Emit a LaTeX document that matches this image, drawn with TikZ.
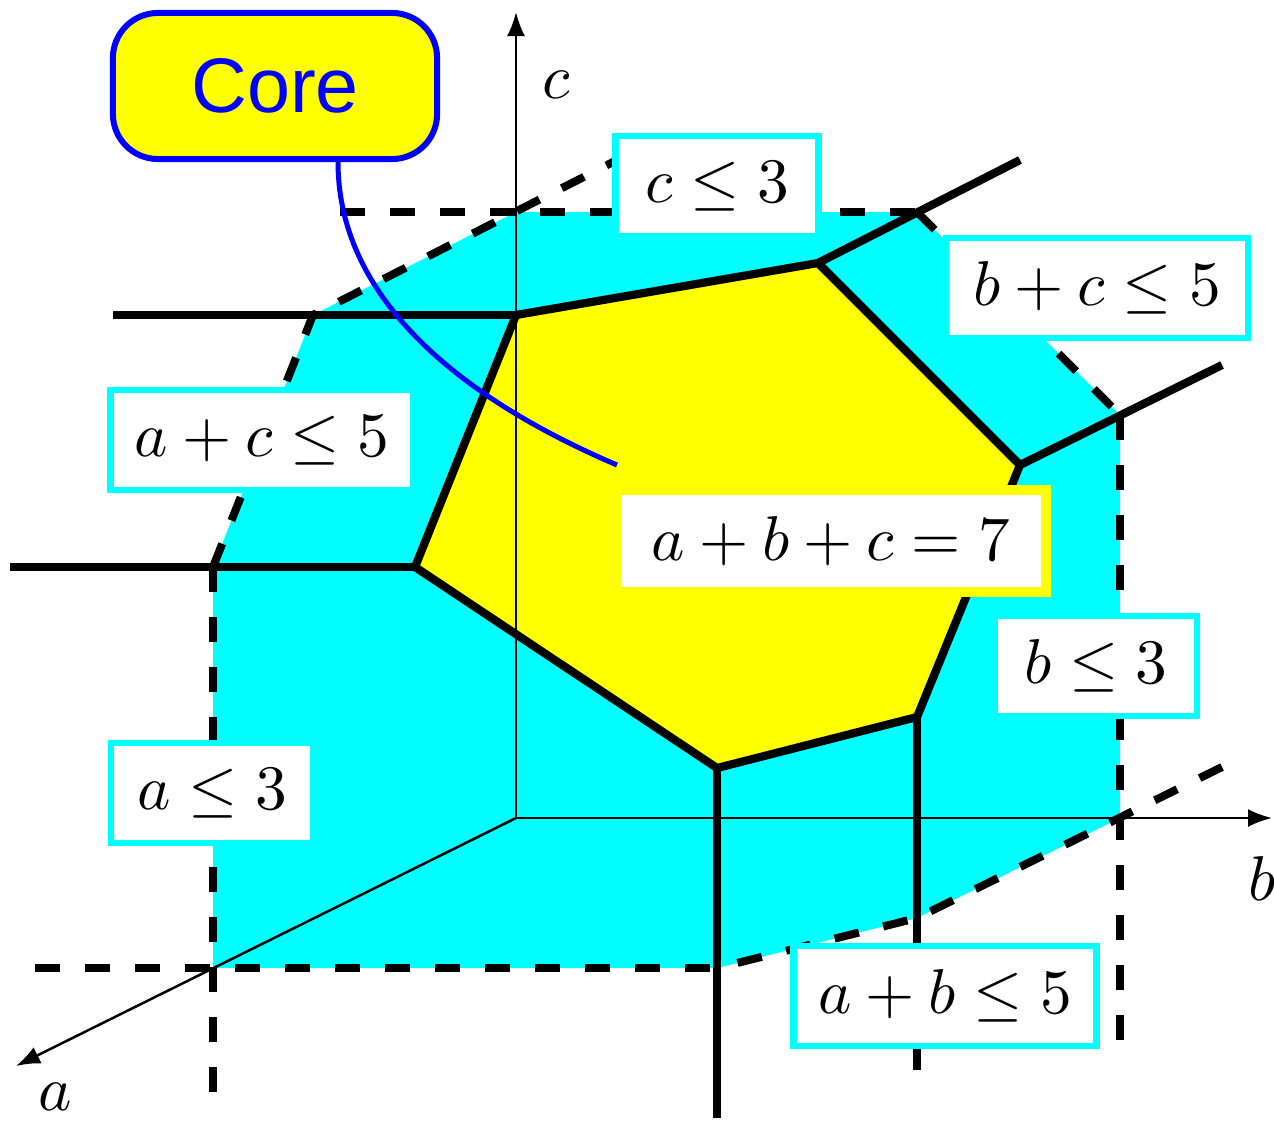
\documentclass[tikz,border=0pt]{standalone}
\usepackage{fontspec}
\newfontfamily\corefont{Liberation Sans}
\usetikzlibrary{arrows.meta}
\definecolor{cy}{RGB}{0,255,255}
\definecolor{ye}{RGB}{255,255,0}
\definecolor{bl}{RGB}{0,0,255}
\newcommand{\lblmath}[1]{\scalebox{1.8}{$#1$}}
\begin{document}
\begin{tikzpicture}[x=0.01cm,y=-0.01cm,
  thickline/.style={line width=0.082cm},
  dashline/.style={line width=0.08cm, dash pattern=on 0.25cm off 0.25cm},
  axisline/.style={line width=0.025cm, -{Latex[length=0.24cm,width=0.18cm]}},
  lbl/.style={draw=cy, line width=0.065cm, fill=white, inner sep=0pt, minimum height=1.0cm},
  axlbl/.style={inner sep=0pt}]
\useasboundingbox (0,0) rectangle (1274,1121);
% axes origin and tips
\coordinate (O) at (516,818);
\coordinate (Ctip) at (516,12);
\coordinate (Btip) at (1272,818);
\coordinate (Atip) at (16,1066);
% core hexagon
\coordinate (Y1) at (516,315);
\coordinate (Y2) at (818,263);
\coordinate (Y3) at (1020,465);
\coordinate (Y4) at (917,717);
\coordinate (Y5) at (717,768);
\coordinate (Y6) at (415,567);
% ray ends
\coordinate (R1) at (113,315);
\coordinate (R2) at (1020,160);
\coordinate (R3) at (1222,365);
\coordinate (R4) at (917,1070);
\coordinate (R5) at (717,1118);
\coordinate (R6) at (10,567);
% cyan region
\coordinate (C1) at (213,567);
\coordinate (C2) at (313,315);
\coordinate (C3) at (516,212);
\coordinate (C4) at (917,212);
\coordinate (C5) at (1120,415);
\coordinate (C6) at (1120,818);
\coordinate (C7) at (917,918);
\coordinate (C8) at (717,968);
\coordinate (C9) at (213,968);
% dashed extents
\coordinate (D1) at (340,212);
\coordinate (D2) at (617,160);
\coordinate (D3) at (1120,1045);
\coordinate (D4) at (1222,767);
\coordinate (D5) at (35,968);
\coordinate (D6) at (213,1095);

\fill[cy] (C1)--(C2)--(C3)--(C4)--(C5)--(C6)--(C7)--(C8)--(C9)--cycle;
\fill[ye] (Y1)--(Y2)--(Y3)--(Y4)--(Y5)--(Y6)--cycle;

\draw[axisline] (O)--(Ctip);
\draw[axisline] (O)--(Btip);
\draw[axisline] (O)--(Atip);

\draw[thickline] (Y1)--(Y2)--(Y3)--(Y4)--(Y5)--(Y6)--cycle;
\draw[thickline] (Y1)--(R1);
\draw[thickline] (Y2)--(R2);
\draw[thickline] (Y3)--(R3);
\draw[thickline] (Y4)--(R4);
\draw[thickline] (Y5)--(R5);
\draw[thickline] (Y6)--(R6);

\draw[dashline] (D1)--(C4);
\draw[dashline] (C1)--(C2)--(D2);
\draw[dashline] (C4)--(C5);
\draw[dashline] (C5)--(D3);
\draw[dashline] (D4)--(C7)--(C8);
\draw[dashline] (D5)--(C8);
\draw[dashline] (C1)--(D6);

\node[lbl, minimum width=2.03cm] (lc3) at (717,186) {\lblmath{c\leq 3}};
\node[lbl, minimum width=3.02cm] (lbc5) at (1097,288) {\lblmath{b+c\leq 5}};
\node[lbl, minimum width=3.03cm] (lac5) at (262,440) {\lblmath{a+c\leq 5}};
\node[lbl, draw=ye, line width=0.095cm, minimum width=4.295cm, minimum height=1.015cm] (labc7) at (831,541) {\lblmath{a+b+c=7}};
\node[lbl, minimum width=2.02cm] (lb3) at (1096,666) {\lblmath{b\leq 3}};
\node[lbl, minimum width=2.02cm] (la3) at (212,793) {\lblmath{a\leq 3}};
\node[lbl, minimum width=3.03cm] (lab5) at (945,996) {\lblmath{a+b\leq 5}};

\node[axlbl] (la) at (55,1097) {\lblmath{a}};
\node[axlbl] (lb) at (1262,878) {\lblmath{b}};
\node[axlbl] (lc) at (556,85) {\lblmath{c}};

\node[draw=bl, line width=0.06cm, fill=ye, rounded corners=0.45cm, minimum width=3.24cm, minimum height=1.46cm, inner sep=0pt, text=bl, font=\corefont\fontsize{22}{26}\selectfont] (core) at (275,86) {Core};
\path (core.south) ++(63,0) coordinate (cs);
\coordinate (ce) at (617,465);
\draw[bl, line width=0.05cm] (cs) .. controls (338,280) and (430,385) .. (ce);
\end{tikzpicture}
\end{document}
